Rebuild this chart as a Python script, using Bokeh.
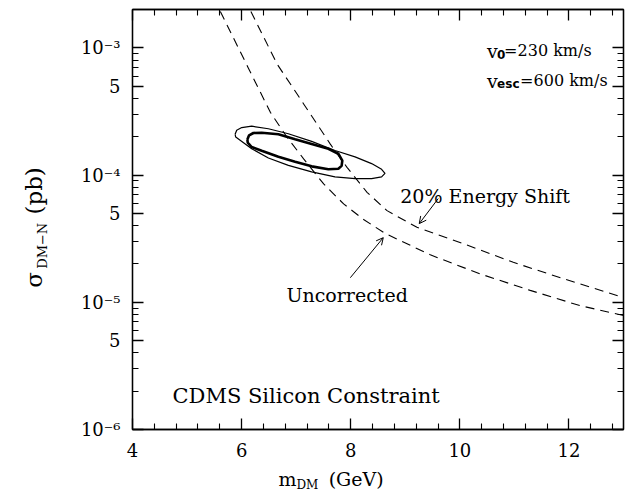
import math
from bokeh.plotting import figure
from bokeh.models import (FixedTicker, LinearAxis, LogAxis, Label, Arrow,
                          OpenHead, Range1d)
from bokeh.embed import file_html
from bokeh.resources import INLINE

# ---------------- data ----------------
x_ticks = [4, 6, 8, 10, 12]
x_minor = [4.4, 4.8, 5.2, 5.6, 6.4, 6.8, 7.2, 7.6, 8.4, 8.8, 9.2, 9.6,
           10.4, 10.8, 11.2, 11.6, 12.4, 12.8]
y_ticks = [1e-6, 5e-6, 1e-5, 5e-5, 1e-4, 5e-4, 1e-3]
y_tick_labels = ["10⁻⁶", "5", "10⁻⁵", "5", "10⁻⁴", "5", "10⁻³"]
y_minor = [2e-6, 3e-6, 4e-6, 5e-6, 6e-6, 7e-6, 8e-6, 9e-6,
           2e-5, 3e-5, 4e-5, 5e-5, 6e-5, 7e-5, 8e-5, 9e-5,
           2e-4, 3e-4, 4e-4, 5e-4, 6e-4, 7e-4, 8e-4, 9e-4]

# "Uncorrected" limit
unc_m = [5.61, 6.12, 6.527, 6.833, 7.137, 7.504, 7.870, 8.236, 8.634,
         9.458, 10.374, 11.29, 12.2, 13.0]
unc_s = [1.93e-3, 6.98e-4, 3.11e-4, 1.98e-4, 1.34e-4, 8.51e-5, 5.93e-5, 4.47e-5, 3.47e-5,
         2.36e-5, 1.67e-5, 1.24e-5, 9.42e-6, 7.87e-6]
# "20% Energy Shift" limit
shift_m = [6.17, 6.650, 7.137, 7.626, 7.932, 8.299, 8.665, 9.214, 10.068, 10.98, 11.90, 13.0]
shift_s = [1.93e-3, 7.46e-4, 3.62e-4, 1.75e-4, 1.15e-4, 7.31e-5, 5.25e-5, 3.88e-5,
           2.88e-5, 2.06e-5, 1.53e-5, 1.09e-5]

# outer (thin) contour
outer_m = [5.881, 5.910, 6.002, 6.185, 6.491, 6.857, 7.284, 7.712, 8.079, 8.383, 8.566,
           8.628, 8.566, 8.383, 8.079, 7.712, 7.284, 6.857, 6.491, 6.185, 5.973, 5.892,
           5.881]
outer_s = [2.09e-4, 2.25e-4, 2.36e-4, 2.42e-4, 2.31e-4, 2.11e-4, 1.84e-4, 1.56e-4, 1.39e-4,
           1.23e-4, 1.11e-4, 1.03e-4, 9.66e-5, 9.37e-5, 9.37e-5, 9.66e-5, 1.06e-4, 1.19e-4,
           1.36e-4, 1.61e-4, 1.88e-4, 1.99e-4, 2.09e-4]
# inner (thick) contour
inner_m = [6.106, 6.137, 6.216, 6.368, 6.674, 6.980, 7.284, 7.590, 7.773, 7.846, 7.833,
           7.773, 7.590, 7.284, 6.980, 6.674, 6.368, 6.185, 6.112, 6.106]
inner_s = [1.905e-4, 2.05e-4, 2.14e-4, 2.15e-4, 2.09e-4, 1.91e-4, 1.75e-4, 1.61e-4, 1.47e-4,
           1.30e-4, 1.18e-4, 1.12e-4, 1.11e-4, 1.17e-4, 1.27e-4, 1.39e-4, 1.55e-4, 1.66e-4,
           1.80e-4, 1.905e-4]

FONT = "DejaVu Serif"

p = figure(width=628, height=497, y_axis_type="log",
           x_range=Range1d(4, 13), y_range=Range1d(1e-6, 2e-3),
           output_backend="svg", toolbar_location=None,
           min_border_left=132, min_border_right=5,
           min_border_top=9, min_border_bottom=68)
p.xgrid.grid_line_color = None
p.ygrid.grid_line_color = None
p.outline_line_color = "black"
p.outline_line_width = 1.3
p.background_fill_color = "white"
p.border_fill_color = "white"

xt = FixedTicker(ticks=x_ticks, minor_ticks=x_minor)
yt = FixedTicker(ticks=y_ticks, minor_ticks=y_minor)


def style(ax, ticks, labels=True):
    ax.axis_line_color = "black"
    ax.axis_line_width = 1.3
    ax.major_tick_in = 11
    ax.major_tick_out = 0
    ax.minor_tick_in = 6
    ax.minor_tick_out = 0
    ax.major_tick_line_width = 1.3
    ax.minor_tick_line_width = 1.1
    ax.major_tick_line_color = "black"
    ax.minor_tick_line_color = "black"
    ax.major_label_text_font = FONT
    ax.major_label_text_color = "black"
    if labels:
        ax.major_label_text_font_size = "18px"
    else:
        ax.major_label_text_font_size = "1px"
        ax.major_label_standoff = 0
        ax.major_label_overrides = {t: "" for t in ticks}
        ax.axis_label = None


p.xaxis.ticker = xt
p.yaxis.ticker = yt
style(p.xaxis[0], x_ticks)
style(p.yaxis[0], y_ticks)
p.xaxis.major_label_standoff = 13
p.yaxis.major_label_standoff = 12
p.yaxis.major_label_overrides = dict(zip(y_ticks, y_tick_labels))

top = LinearAxis(ticker=xt)
style(top, x_ticks, labels=False)
p.add_layout(top, "above")
right = LogAxis(ticker=yt)
style(right, y_ticks, labels=False)
p.add_layout(right, "right")

# curves
p.line(unc_m, unc_s, line_color="black", line_width=1.1, line_dash="9 6")
p.line(shift_m, shift_s, line_color="black", line_width=1.1, line_dash="9 6")
p.line(outer_m, outer_s, line_color="black", line_width=1.2)
p.line(inner_m, inner_s, line_color="black", line_width=2.6)

# arrows
p.add_layout(Arrow(end=OpenHead(size=7, line_width=1), x_start=9.604, y_start=6.53e-5,
                   x_end=9.256, y_end=4.15e-5, line_width=1))
p.add_layout(Arrow(end=OpenHead(size=7, line_width=1), x_start=7.993, y_start=1.56e-5,
                   x_end=8.597, y_end=3.22e-5, line_width=1))


def lab(x, y, text, size, xo=0, yo=0, font=FONT, style_="normal", angle=0, place="center"):
    l = Label(x=x, y=y, text=text, x_offset=xo, y_offset=yo,
              x_units="data", y_units="data", angle=angle,
              text_font=font, text_font_size=size, text_font_style=style_,
              text_color="black", text_baseline="alphabetic", text_align="left")
    p.add_layout(l, place)


lab(8.908, 6.89e-5, "20% Energy Shift", "19px")
lab(6.821, 1.15e-5, "Uncorrected", "19px")
lab(4.733, 1.85e-6, "CDMS  Silicon  Constraint", "21px")

# velocity annotations
lab(10.50, 9.48e-4, "v", "19px")
lab(10.50, 9.48e-4, "0", "12px", xo=10, yo=-4, font="DejaVu Sans", style_="bold")
lab(10.50, 9.48e-4, "=230 km/s", "16px", xo=17)
lab(10.50, 5.52e-4, "v", "19px")
lab(10.50, 5.52e-4, "esc", "12px", xo=10, yo=-3, font="DejaVu Sans", style_="bold")
lab(10.50, 5.52e-4, "=600 km/s", "16px", xo=33)

# axis titles, placed in side panels (outside the frame, not clipped)
XL_X, XL_Y = 6.674, 4.05e-7
lab(XL_X, XL_Y, "m\u2003\u2002\u2009(GeV)", "19px", place="below")
lab(XL_X, XL_Y, "DM", "12px", xo=18, yo=-6, place="left")

YL_X, YL_Y = 2.187, 1.30e-5
lab(YL_X, YL_Y, "σ\u2003\u2003\u2002(pb)", "23px", angle=math.pi / 2, place="left")
lab(YL_X, YL_Y, "DM−N", "13px", xo=9, yo=19, angle=math.pi / 2, place="left")

open("out.html", "w").write(file_html(p, INLINE))
